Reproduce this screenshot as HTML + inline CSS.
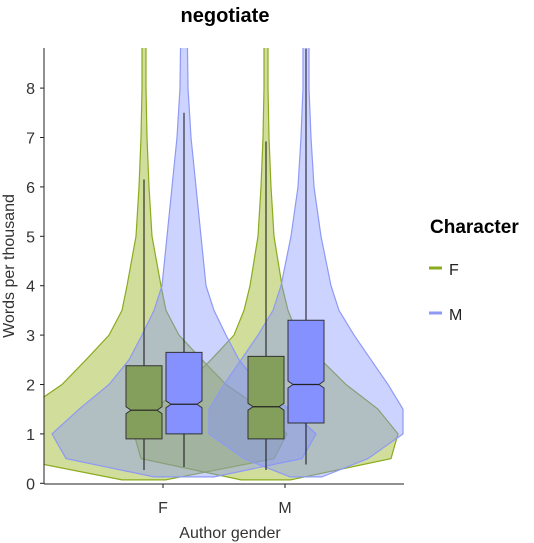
<!DOCTYPE html>
<html><head><meta charset="utf-8"><style>
body{margin:0;background:#fff;}
svg{display:block;font-family:"Liberation Sans",sans-serif;}
</style></head><body>
<svg id="chart" width="534" height="543">
<defs><clipPath id="plotclip"><rect x="44" y="48" width="360" height="436"/></clipPath></defs>
<text x="225" y="22" text-anchor="middle" font-size="20" font-weight="bold" fill="#000">negotiate</text>
<g id="plot" clip-path="url(#plotclip)"></g>
<g id="boxes"></g>
<g id="axes"></g>
<text transform="translate(14,266) rotate(-90)" text-anchor="middle" font-size="16" fill="#333">Words per thousand</text>
<text x="230" y="538" text-anchor="middle" font-size="16" fill="#333">Author gender</text>
<g>
<text x="430" y="233" font-size="19" font-weight="bold" fill="#000">Character</text>
<g><line x1="429" y1="268" x2="442" y2="268" stroke="#8aab1e" stroke-width="3"/><text x="449" y="275" font-size="16" fill="#222">F</text></g>
<g><line x1="429" y1="313" x2="442" y2="313" stroke="#8e99f5" stroke-width="3"/><text x="449" y="320" font-size="16" fill="#222">M</text></g>
</g>
</svg>
<script>
const groups = ["F","M"];
const characters = ["F","M"];
const yTicks = [0,1,2,3,4,5,6,7,8];
const levelsG = [0.07,0.5,1,1.5,2,2.5,3,3.5,4,5,6,7,8,9.5];
const levelsB = [0.13,0.5,1,1.5,2,2.5,3,3.5,4,5,6,7,8,9.5];
const densGreenF = [22,130,143,118,82,58,35,22,17,8,5,3,2,2];
const densGreenM = [25,125,132,112,80,55,32,22,16,8,5,3,2,2];
const densBlueF = [30,118,132,105,75,55,42,30,22,17,12,7,4,3];
const densBlueM = [16,62,97,97,82,65,48,33,25,15,8,5,3,3];
const q1 = [[0.9,1.0],[0.9,1.22]];
const med = [[1.48,1.6],[1.55,2.0]];
const q3 = [[2.38,2.65],[2.57,3.3]];
const wLo = [[0.27,0.33],[0.27,0.38]];
const wHi = [[6.15,7.5],[6.92,8.8]];

const NS="http://www.w3.org/2000/svg";
const y = v => 483.3 - 49.4*v;
const xGroup = i => 163 + i*122;
const xChar = (g,c) => xGroup(g) + (c===0?-19:21);
const fills = ["#9ab41e","#8291ff"], strokes=["#8aab1e","#8e99f5"], boxFill=["#849e5c","#8591ff"];
function mk(tag, attrs, parent){const e=document.createElementNS(NS,tag);for(const k in attrs)e.setAttribute(k,attrs[k]);parent.appendChild(e);return e;}
const plot=document.getElementById('plot'), boxes=document.getElementById('boxes'), axes=document.getElementById('axes');
const dens=[[densGreenF,densGreenM],[densBlueF,densBlueM]];
const levs=[levelsG,levelsB];
for(let c=0;c<2;c++)for(let g=0;g<2;g++){
  const cx=xChar(g,c), d=dens[c][g], L=levs[c];
  let pts=[];
  for(let i=0;i<L.length;i++)pts.push((cx+d[i])+","+y(L[i]));
  for(let i=L.length-1;i>=0;i--)pts.push((cx-d[i])+","+y(L[i]));
  const p=mk('polygon',{points:pts.join(' '),fill:fills[c],'fill-opacity':c===0?0.45:0.4,stroke:strokes[c],'stroke-width':1.2},plot);
  
  
}
for(let g=0;g<2;g++)for(let c=0;c<2;c++){
  const cx=xChar(g,c), hw=18, n=5, nd=0.07;
  const gEl=mk('g',{},boxes);
  
  
  mk('line',{x1:cx,x2:cx,y1:y(wLo[g][c]),y2:y(wHi[g][c]),stroke:'#111','stroke-width':1},gEl);
  const pts=[[cx-hw,y(q1[g][c])],[cx+hw,y(q1[g][c])],[cx+hw,y(med[g][c]-nd)],[cx+hw-n,y(med[g][c])],[cx+hw,y(med[g][c]+nd)],[cx+hw,y(q3[g][c])],[cx-hw,y(q3[g][c])],[cx-hw,y(med[g][c]+nd)],[cx-hw+n,y(med[g][c])],[cx-hw,y(med[g][c]-nd)]];
  mk('polygon',{points:pts.map(p=>p.join(',')).join(' '),fill:boxFill[c],stroke:'#333','stroke-width':1},gEl);
  mk('line',{x1:cx-hw+n,x2:cx+hw-n,y1:y(med[g][c]),y2:y(med[g][c]),stroke:'#222','stroke-width':1.2},gEl);
}
mk('line',{x1:44,x2:44,y1:48,y2:484,stroke:'#222','stroke-width':1},axes);
mk('line',{x1:44,x2:404,y1:484,y2:484,stroke:'#222','stroke-width':1},axes);
yTicks.forEach(t=>{
  mk('line',{x1:40,x2:44,y1:y(t),y2:y(t),stroke:'#222'},axes);
  const tx=mk('text',{x:35,y:y(t)+6,'text-anchor':'end','font-size':16,fill:'#333'},axes);
  tx.textContent=t;
  
  
});
groups.forEach((g,i)=>{
  mk('line',{x1:xGroup(i),x2:xGroup(i),y1:484,y2:488,stroke:'#222'},axes);
  const tx=mk('text',{x:xGroup(i),y:513,'text-anchor':'middle','font-size':16,fill:'#333'},axes);
  tx.textContent=g;
  
  
});
</script>
</body></html>
